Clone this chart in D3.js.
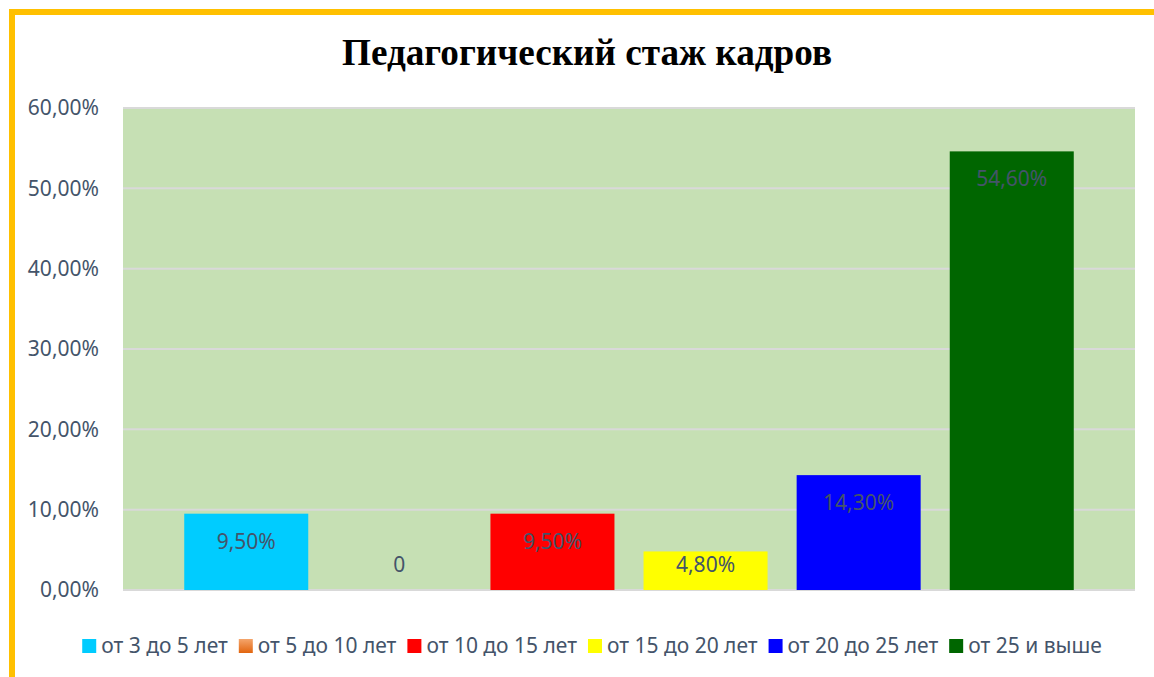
<!DOCTYPE html>
<html>
<head>
<meta charset="utf-8">
<script src="https://cdn.jsdelivr.net/npm/d3@7"></script>
<style>
  body { margin: 0; background: #fff; }
  svg { display: block; }
</style>
</head>
<body>
<div id="chart"></div>
<script>
// values (percent)
const categories = ['от 3 до 5 лет', 'от 5 до 10 лет', 'от 10 до 15 лет', 'от 15 до 20 лет', 'от 20 до 25 лет', 'от 25 и выше'];
const values = [9.5, 0, 9.5, 4.8, 14.3, 54.6];
const yTicks = [0, 10, 20, 30, 40, 50, 60];
const barColors = ['#00CCFF', 'url(#orangeGrad)', '#FF0000', '#FFFF00', '#0000FF', '#006600'];

const width = 1154, height = 677;
const plot = { left: 123, right: 1135, top: 108, bottom: 590 };
const textColor = '#44546A';
const font = '"Noto Sans", "Open Sans", sans-serif';

const ru = d3.formatLocale({ decimal: ',', thousands: ' ', grouping: [3], currency: ['', ' ₽'] });
const fmt = v => v === 0 ? '0' : ru.format('.2f')(v) + '%';

const svg = d3.select('#chart').append('svg')
  .attr('width', width)
  .attr('height', height);

const defs = svg.append('defs');
const grad = defs.append('linearGradient').attr('id', 'orangeGrad')
  .attr('x1', 0).attr('y1', 0).attr('x2', 0).attr('y2', 1);
grad.append('stop').attr('offset', '0%').attr('stop-color', '#F4A56C');
grad.append('stop').attr('offset', '100%').attr('stop-color', '#E2650E');

// orange frame (only top / left visible)
svg.append('rect')
  .attr('x', 12).attr('y', 12)
  .attr('width', 1300).attr('height', 800)
  .attr('fill', 'none')
  .attr('stroke', '#FFC000')
  .attr('stroke-width', 6);

// title
svg.append('text')
  .attr('x', 587).attr('y', 65)
  .attr('text-anchor', 'middle')
  .attr('font-family', '"Liberation Serif", "Times New Roman", serif')
  .attr('font-weight', 'bold')
  .attr('font-size', 37.2)
  .attr('fill', '#000')
  .text('Педагогический стаж кадров');

const x = d3.scaleBand()
  .domain(d3.range(categories.length))
  .range([plot.left, plot.right])
  .paddingInner(0.19)
  .paddingOuter(0.4);

const y = d3.scaleLinear()
  .domain([0, 60])
  .range([plot.bottom, plot.top]);

// plot area background
svg.append('rect')
  .attr('x', plot.left).attr('y', plot.top)
  .attr('width', plot.right - plot.left)
  .attr('height', plot.bottom - plot.top)
  .attr('fill', '#C6E0B4');

// gridlines
svg.append('g')
  .selectAll('line')
  .data(yTicks)
  .join('line')
    .attr('x1', plot.left).attr('x2', plot.right)
    .attr('y1', d => y(d)).attr('y2', d => y(d))
    .attr('stroke', '#D9D9D9')
    .attr('stroke-width', 2);

// y axis labels
const yAxis = svg.append('g')
  .attr('transform', `translate(${plot.left - 13},0)`)
  .call(d3.axisLeft(y).tickValues(yTicks).tickSize(0).tickPadding(11).tickFormat(d => ru.format('.2f')(d) + '%'));
yAxis.select('.domain').remove();
yAxis.selectAll('text')
  .attr('font-family', font)
  .attr('font-size', 21)
  .attr('fill', textColor);

// bars
svg.append('g')
  .selectAll('rect')
  .data(values)
  .join('rect')
    .attr('x', (d, i) => x(i))
    .attr('y', d => y(d))
    .attr('width', x.bandwidth())
    .attr('height', d => y(0) - y(d))
    .attr('fill', (d, i) => barColors[i]);

// data labels, inside end
svg.append('g')
  .selectAll('text')
  .data(values)
  .join('text')
    .attr('x', (d, i) => x(i) + x.bandwidth() / 2)
    .attr('y', d => Math.min(y(d) + 35, y(0) - 18))
    .attr('text-anchor', 'middle')
    .attr('font-family', font)
    .attr('font-size', 21)
    .attr('fill', textColor)
    .text(d => fmt(d));

// legend
const legend = svg.append('g');
const items = legend.selectAll('g')
  .data(categories)
  .join('g');
items.append('rect')
  .attr('y', 639)
  .attr('width', 14).attr('height', 14)
  .attr('fill', (d, i) => barColors[i]);
items.append('text')
  .attr('x', 19)
  .attr('y', 653)
  .attr('font-family', font)
  .attr('font-size', 21)
  .attr('fill', textColor)
  .text(d => d);

const gap = 11;
let widths = [];
items.each(function () {
  widths.push(19 + d3.select(this).select('text').node().getComputedTextLength());
});
const total = d3.sum(widths) + gap * (widths.length - 1);
let cx = 592 - total / 2;
items.attr('transform', (d, i) => {
  const t = `translate(${cx},0)`;
  cx += widths[i] + gap;
  return t;
});
</script>
</body>
</html>
